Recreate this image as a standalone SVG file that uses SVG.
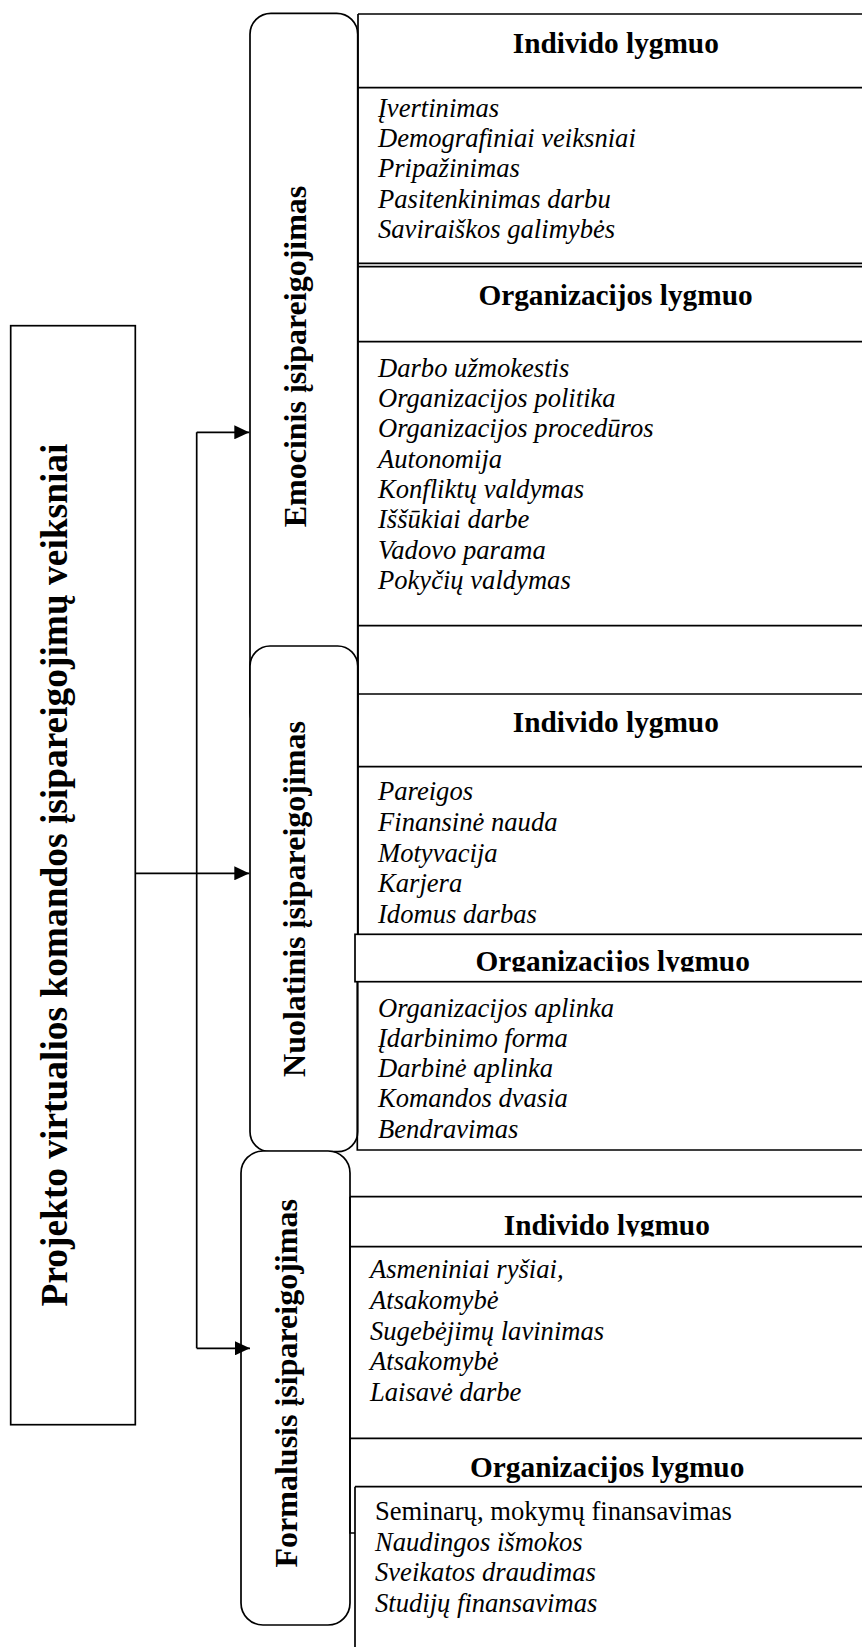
<svg xmlns="http://www.w3.org/2000/svg" width="862" height="1647" viewBox="0 0 862 1647">
<style>
.ln{stroke:#000;stroke-width:1.7;fill:none}
.bx{stroke:#000;stroke-width:1.7;fill:#fff}
.h{font-family:"Liberation Serif","Times New Roman",serif;font-weight:bold;font-size:29.3px;text-anchor:middle;fill:#000}
.it{font-family:"Liberation Serif","Times New Roman",serif;font-style:italic;font-size:26.6px;fill:#000}
.rg{font-family:"Liberation Serif","Times New Roman",serif;font-size:26.6px;fill:#000}
.vt{font-family:"Liberation Serif","Times New Roman",serif;font-weight:bold;font-size:32px;text-anchor:middle;fill:#000}
.mt{font-family:"Liberation Serif","Times New Roman",serif;font-weight:bold;font-size:37.4px;text-anchor:middle;fill:#000}
</style>
<defs>
<marker id="arr" viewBox="0 0 15 14" refX="15" refY="7" markerWidth="15" markerHeight="14" markerUnits="userSpaceOnUse" orient="auto">
<path d="M0,0 L15,7 L0,14 z" fill="#000"/>
</marker>
<clipPath id="c2"><rect x="355" y="934" width="520" height="37.7"/></clipPath>
<clipPath id="c3"><rect x="350" y="1197" width="520" height="39.5"/></clipPath>
</defs>
<rect width="862" height="1647" fill="#fff"/>

<g id="main">
<rect class="bx" x="10.7" y="325.7" width="124.6" height="1099"/>
<text class="mt" transform="translate(66.7,875) rotate(-90)">Projekto virtualios komandos įsipareigojimų veiksniai</text>
</g>

<g id="emocinis">
<rect class="bx" x="250" y="13.3" width="107.7" height="720" rx="21" ry="21"/>
<text class="vt" transform="translate(306,356.5) rotate(-90)">Emocinis įsipareigojimas</text>
</g>

<g id="nuolatinis">
<rect class="bx" x="250" y="646" width="107.7" height="505.7" rx="20" ry="20"/>
<text class="vt" transform="translate(305,899) rotate(-90)">Nuolatinis įsipareigojimas</text>
</g>

<g id="formalusis">
<rect class="bx" x="241" y="1151" width="109" height="474" rx="22" ry="22"/>
<text class="vt" transform="translate(296.7,1383.3) rotate(-90)">Formalusis įsipareigojimas</text>
</g>

<g id="panel-emocinis">
<path class="ln" d="M358,14 H874 M358,87.7 H874 M358,263.3 H874 M358,266.7 H874 M358,341.7 H874 M358,625.7 H874 M358,694 H874 M358,766.7 H874 M358,14 V934.3"/>
<text class="h" x="615.8" y="53.3">Individo lygmuo</text>
<text class="it" x="378" y="116.7">Įvertinimas</text>
<text class="it" x="378" y="147">Demografiniai veiksniai</text>
<text class="it" x="378" y="177.3">Pripažinimas</text>
<text class="it" x="378" y="207.6">Pasitenkinimas darbu</text>
<text class="it" x="378" y="237.9">Saviraiškos galimybės</text>
<text class="h" x="615.5" y="305">Organizacijos lygmuo</text>
<text class="it" x="378" y="376.7">Darbo užmokestis</text>
<text class="it" x="378" y="407">Organizacijos politika</text>
<text class="it" x="378" y="437.3">Organizacijos procedūros</text>
<text class="it" x="378" y="467.6">Autonomija</text>
<text class="it" x="378" y="497.9">Konfliktų valdymas</text>
<text class="it" x="378" y="528.2">Iššūkiai darbe</text>
<text class="it" x="378" y="558.5">Vadovo parama</text>
<text class="it" x="378" y="588.8">Pokyčių valdymas</text>
</g>

<g id="panel-nuolatinis">
<text class="h" x="615.8" y="731.7">Individo lygmuo</text>
<text class="it" x="378" y="800">Pareigos</text>
<text class="it" x="378" y="830.8">Finansinė nauda</text>
<text class="it" x="378" y="861.6">Motyvacija</text>
<text class="it" x="378" y="892.4">Karjera</text>
<text class="it" x="378" y="923.2">Idomus darbas</text>
<rect class="bx" x="355" y="934.3" width="520" height="47.4"/>
<text class="h" x="612.7" y="970.8" clip-path="url(#c2)">Organizacijos lygmuo</text>
<path class="ln" d="M357.3,981.7 V1150 H874"/>
<text class="it" x="378" y="1016.7">Organizacijos aplinka</text>
<text class="it" x="378" y="1046.9">Įdarbinimo forma</text>
<text class="it" x="378" y="1077.1">Darbinė aplinka</text>
<text class="it" x="378" y="1107.3">Komandos dvasia</text>
<text class="it" x="378" y="1137.8">Bendravimas</text>
</g>

<g id="panel-formalusis">
<path class="ln" d="M350,1196.7 H874 M350,1246.7 H874 M350,1438.3 H874 M350,1196.7 V1533 H355 M355,1486.7 H874 M355,1486.7 V1650"/>
<text class="h" x="606.8" y="1235.3" clip-path="url(#c3)">Individo lygmuo</text>
<text class="it" x="370" y="1278.3">Asmeniniai ryšiai,</text>
<text class="it" x="370" y="1309.3">Atsakomybė</text>
<text class="it" x="370" y="1340">Sugebėjimų lavinimas</text>
<text class="it" x="370" y="1370.4">Atsakomybė</text>
<text class="it" x="370" y="1401.4">Laisavė darbe</text>
<text class="h" x="607.2" y="1476.7">Organizacijos lygmuo</text>
<text class="rg" x="375" y="1520">Seminarų, mokymų finansavimas</text>
<text class="it" x="375" y="1550.5">Naudingos išmokos</text>
<text class="it" x="375" y="1581">Sveikatos draudimas</text>
<text class="it" x="375" y="1611.5">Studijų finansavimas</text>
</g>

<g id="connectors">
<path class="ln" d="M196.7,432.3 V1348.3"/>
<path class="ln" d="M196.7,432.3 H249.3" marker-end="url(#arr)"/>
<path class="ln" d="M135.3,873.3 H249.3" marker-end="url(#arr)"/>
<path class="ln" d="M196.7,1348.3 H250" marker-end="url(#arr)"/>
</g>
</svg>
